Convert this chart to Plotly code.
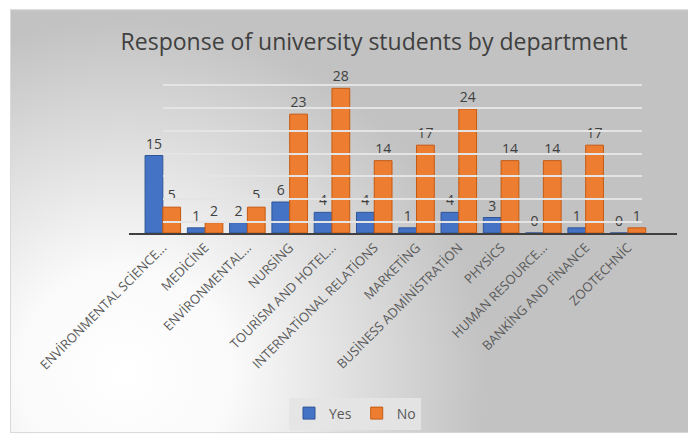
import plotly.graph_objects as go

categories = ["ENVİRONMENTAL SCİENCE...", "MEDİCİNE", "ENVİRONMENTAL...", "NURSİNG",
              "TOURİSM AND HOTEL...", "INTERNATİONAL RELATİONS", "MARKETİNG",
              "BUSİNESS ADMİNİSTRATİON", "PHYSİCS", "HUMAN RESOURCE...",
              "BANKİNG AND FİNANCE", "ZOOTECHNİC"]
yes_values = [15, 1, 2, 6, 4, 4, 1, 4, 3, 0, 1, 0]
no_values = [5, 2, 5, 23, 28, 14, 17, 24, 14, 14, 17, 1]

# page body has an 8px margin, so the figure is drawn 8px smaller and all geometry shifted
OFF = 8
W, H = 696 - OFF, 441 - OFF
L, R, T, B = 129 - OFF, 677 - OFF, 78 - OFF, 236 - OFF
PW, PH = R - L, B - T

svg = ("data:image/svg+xml;utf8,"
       "<svg xmlns='http://www.w3.org/2000/svg' width='686' height='432'>"
       "<defs><radialGradient id='g' cx='115' cy='370' r='360' gradientUnits='userSpaceOnUse'>"
       "<stop offset='0' stop-color='%23ffffff'/><stop offset='0.3' stop-color='%23fafafa'/>"
       "<stop offset='1' stop-color='%23c2c2c2'/></radialGradient></defs>"
       "<rect width='686' height='432' fill='%23c2c2c2'/>"
       "<rect x='0.5' y='0.5' width='685' height='431' fill='url(%23g)' stroke='%23d9d9d9' stroke-width='1'/></svg>")

fig = go.Figure()
fig.add_trace(go.Bar(name="Yes", x=categories, y=yes_values, text=yes_values,
                     textposition="outside",
                     marker=dict(color="#4472C4", line=dict(color="#2F5597", width=1))))
fig.add_trace(go.Bar(name="No", x=categories, y=no_values, text=no_values,
                     textposition="outside",
                     marker=dict(color="#ED7D31", line=dict(color="#C55A11", width=1))))
fig.update_traces(textfont=dict(family="Open Sans", size=14, color="#404040"), cliponaxis=False)

# invisible trace carrying the back-wall grid axes
fig.add_trace(go.Scatter(x=[None], y=[None], xaxis="x2", yaxis="y2", showlegend=False,
                         hoverinfo="skip", mode="markers"))

fig.update_layout(
    width=W, height=H,
    paper_bgcolor="white", plot_bgcolor="rgba(0,0,0,0)",
    margin=dict(l=L, r=W - R, t=T, b=H - B),
    barmode="group", bargap=0.16, bargroupgap=0.0,
    title=dict(text="Response of university students by department", x=(374 - OFF) / W,
               xanchor="center", y=1 - (42 - OFF) / H, yanchor="middle",
               font=dict(family="Open Sans", size=23, color="#404040")),
    font=dict(family="Open Sans", color="#595959"),
    xaxis=dict(tickangle=-45, tickfont=dict(size=13, color="#595959"), showline=True,
               linecolor="#404040", linewidth=2, showgrid=False, ticks="",
               range=[-0.8, 12.16], layer="above traces"),
    yaxis=dict(range=[0, 30], showgrid=False, showticklabels=False, zeroline=False,
               showline=False),
    xaxis2=dict(domain=[(163 - OFF - L) / PW, (642 - OFF - L) / PW], visible=False,
                range=[0, 1], anchor="y2"),
    yaxis2=dict(range=[-11 / 23.3, (PH - 11) / 23.3], dtick=1, tick0=0, showgrid=True,
                gridcolor="#e4e4e4", gridwidth=1.5, showticklabels=False, zeroline=False,
                showline=False, anchor="x2", overlaying="y", layer="below traces"),
    legend=dict(orientation="h", x=(355 - OFF - L) / PW, xanchor="center",
                y=(B - (420 - OFF)) / PH, yanchor="middle", itemwidth=30,
                bgcolor="rgba(228,228,228,0.9)", font=dict(size=14, color="#595959")),
    images=[dict(source=svg, xref="paper", yref="paper", x=(10 - OFF - L) / PW,
                 y=1 + (T - (8 - OFF)) / PH, sizex=686 / PW, sizey=432 / PH,
                 xanchor="left", yanchor="top", sizing="stretch", layer="below")],
)

fig.write_html("out.html")
